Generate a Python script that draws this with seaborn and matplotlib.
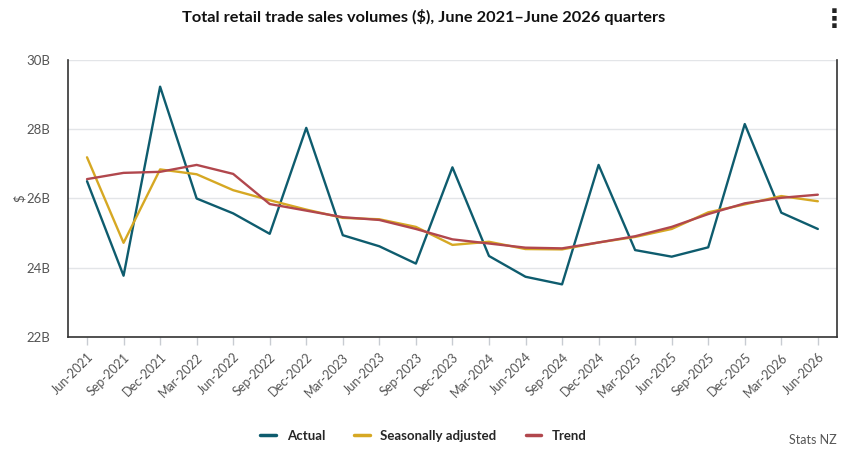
import matplotlib
matplotlib.use("Agg")
import pandas as pd
import matplotlib.pyplot as plt
import seaborn as sns

quarters = ["Jun-2021", "Sep-2021", "Dec-2021", "Mar-2022", "Jun-2022", "Sep-2022",
            "Dec-2022", "Mar-2023", "Jun-2023", "Sep-2023", "Dec-2023", "Mar-2024",
            "Jun-2024", "Sep-2024", "Dec-2024", "Mar-2025", "Jun-2025", "Sep-2025",
            "Dec-2025", "Mar-2026", "Jun-2026"]

# billions of dollars
actual = [26.50, 23.77, 29.23, 26.00, 25.57, 24.98, 28.04, 24.94, 24.62, 24.12, 26.90,
          24.34, 23.74, 23.52, 26.97, 24.51, 24.32, 24.59, 28.15, 25.59, 25.12]
seas_adj = [27.19, 24.72, 26.84, 26.70, 26.24, 25.95, 25.68, 25.44, 25.40, 25.18, 24.66,
            24.75, 24.54, 24.53, 24.73, 24.89, 25.12, 25.60, 25.83, 26.07, 25.92]
trend = [26.56, 26.74, 26.77, 26.97, 26.71, 25.84, 25.65, 25.46, 25.38, 25.12, 24.82,
         24.70, 24.58, 24.56, 24.73, 24.91, 25.18, 25.55, 25.86, 26.02, 26.11]

series_names = ["Actual", "Seasonally adjusted", "Trend"]
colors = ["#0e5c6e", "#d6a823", "#b1474d"]

df = pd.DataFrame({
    "idx": list(range(len(quarters))) * 3,
    "value": actual + seas_adj + trend,
    "series": [s for s in series_names for _ in quarters],
})

sns.set_theme(style="white")
plt.rcParams["font.family"] = ["Lato", "DejaVu Sans"]

fig = plt.figure(figsize=(8.47, 4.5), dpi=100)
ax = fig.add_axes([0.0803, 0.2511, 0.9077, 0.6156])

sns.lineplot(data=df, x="idx", y="value", hue="series", palette=colors,
             hue_order=series_names, linewidth=1.7, ax=ax, legend=False)

ax.set_xlim(-0.52, len(quarters) - 1 + 0.52)
ax.set_ylim(22, 30)
ax.set_yticks([22, 24, 26, 28, 30])
ax.set_yticklabels([f"{v}B" for v in [22, 24, 26, 28, 30]], color="#555555", fontsize=9.5)
ax.yaxis.grid(True, color="#e3e5e8", linewidth=1)
ax.tick_params(axis="y", length=0, pad=13)

ax.set_xticks(range(len(quarters)))
ax.set_xticklabels(quarters, rotation=45, ha="right", rotation_mode="anchor",
                   color="#555555", fontsize=9)
ax.tick_params(axis="x", length=6, color="#c8ccd2", width=1, pad=4, bottom=True)

for side in ["left", "bottom", "right"]:
    ax.spines[side].set_color("#333333")
    ax.spines[side].set_linewidth(1.2)
ax.spines["top"].set_visible(False)

ax.set_xlabel("")
ax.set_ylabel("")
fig.text(20 / 847, 1 - 198 / 450, "$", rotation=90, ha="center", va="center",
         color="#555555", fontsize=9.5)

fig.text(0.5, 0.962, "Total retail trade sales volumes ($), June 2021\u2013June 2026 quarters",
         ha="center", va="center", fontsize=11.8, fontweight="bold", color="#111111")
fig.text(0.985, 0.955, "\u22ee", ha="center", va="center", fontsize=18,
         fontweight="bold", color="#222222", family=["DejaVu Sans"])

handles = [plt.Line2D([0], [0], color=c, linewidth=2.5) for c in colors]
fig.legend(handles, series_names, loc="center", bbox_to_anchor=(0.5, 0.031),
           ncol=3, frameon=False, handlelength=1.2, columnspacing=2.2,
           prop={"weight": "bold", "size": 9.5})
fig.text(0.988, 0.022, "Stats NZ", ha="right", va="center", fontsize=9, color="#555555")

fig.savefig("out.png", dpi=100)
